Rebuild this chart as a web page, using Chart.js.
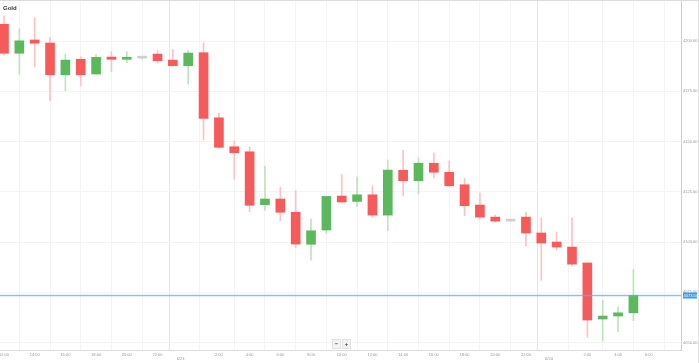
<!DOCTYPE html>
<html>
<head>
<meta charset="utf-8">
<script src="https://cdn.jsdelivr.net/npm/chart.js@4.4.0/dist/chart.umd.min.js"></script>
<style>
  html, body { margin: 0; padding: 0; background: #fff; }
  #wrap { position: relative; width: 699px; height: 363px; box-sizing: border-box;
          border-top: 1px solid #dcdcdc; border-right: 1px solid #e2e2e2; }
  #box { position: absolute; left: 0; top: 0; width: 698px; height: 362px; }
  #title { position: absolute; left: 3px; top: 4px; font: bold 6px "Liberation Sans", Arial, sans-serif; color: #333; }
  #zoom { position: absolute; left: 332px; top: 338px; display: flex; gap: 1px; }
  #zoom span { width: 7px; height: 8px; background: #f3f3f3; border: 1px solid #e2e2e2;
               font: bold 6px "Liberation Sans", Arial, sans-serif; color: #444;
               line-height: 8px; text-align: center; }
</style>
</head>
<body>
<div id="wrap">
  <div id="box"><canvas id="gold"></canvas></div>
  <div id="title">Gold</div>
  <div id="zoom"><span>−</span><span>+</span></div>
</div>
<script>
// hourly candles from 12:00 (6/22) to 5:00 (6/24)
const openP  = [4208.3, 4193.9, 4200.5, 4199.0, 4183.2, 4190.9, 4183.6, 4192.0, 4190.9, 4191.5, 4193.5, 4190.5, 4187.7, 4194.2, 4161.8, 4147.4, 4144.9, 4118.6, 4121.4, 4114.8, 4098.9, 4106.0, 4122.9, 4120.2, 4123.5, 4113.4, 4135.7, 4130.5, 4139.2, 4134.7, 4128.5, 4118.4, 4112.4, 4110.4, 4112.4, 4104.5, 4100.0, 4097.5, 4089.6, 4061.7, 4063.2, 4064.8];
const highP  = [4212.4, 4206.0, 4211.6, 4201.8, 4193.5, 4192.2, 4193.4, 4194.7, 4194.7, 4191.9, 4195.2, 4195.9, 4195.2, 4199.2, 4164.0, 4150.4, 4147.4, 4137.8, 4127.2, 4125.5, 4111.4, 4122.9, 4133.8, 4132.5, 4127.9, 4140.8, 4145.8, 4142.1, 4144.4, 4140.3, 4131.7, 4124.4, 4113.4, 4110.6, 4114.9, 4112.0, 4105.0, 4112.0, 4089.6, 4071.1, 4067.8, 4086.4];
const lowP   = [4193.0, 4183.4, 4187.2, 4170.3, 4175.3, 4177.6, 4183.1, 4184.7, 4189.2, 4191.0, 4188.9, 4187.6, 4178.6, 4150.7, 4146.8, 4131.2, 4115.1, 4115.9, 4110.6, 4097.2, 4091.0, 4104.3, 4119.9, 4117.6, 4112.3, 4105.6, 4123.0, 4123.9, 4132.0, 4127.5, 4113.1, 4111.4, 4109.9, 4110.2, 4098.0, 4081.0, 4096.0, 4088.0, 4052.7, 4050.7, 4055.4, 4060.9];
const closeP = [4193.9, 4200.1, 4198.9, 4183.2, 4190.5, 4183.2, 4191.9, 4190.9, 4191.9, 4191.5, 4190.2, 4187.7, 4194.0, 4161.5, 4147.1, 4144.4, 4118.3, 4121.4, 4114.8, 4099.0, 4105.6, 4122.7, 4119.9, 4123.5, 4113.4, 4135.8, 4130.5, 4139.2, 4134.7, 4128.0, 4118.1, 4112.4, 4110.4, 4110.4, 4104.5, 4099.5, 4097.5, 4089.0, 4061.2, 4063.2, 4064.8, 4073.5];

// x axis ticks (hours since first candle) and their labels
const xTickPos  = [0, 2, 4, 6, 8, 10, 11.5, 14, 16, 18, 20, 22, 24, 26, 28, 30, 32, 34, 35.5, 38, 40, 42];
const xTickText = ['12:00', '14:00', '16:00', '18:00', '20:00', '22:00', ['', '6/23'], '2:00', '4:00', '6:00', '8:00', '10:00',
                   '12:00', '14:00', '16:00', '18:00', '20:00', '22:00', ['', '6/24'], '2:00', '4:00', '6:00'];
const yTicks = [4050, 4075, 4100, 4125, 4150, 4175, 4200];

const UP = '#5cb85c', DOWN = '#f65b5b', FLAT = '#cfcfcf';
const UP_W = '#bfe3bb', DOWN_W = '#fbc4c4', FLAT_W = '#dddddd';

const dir = openP.map((o, i) => closeP[i] > o ? 1 : closeP[i] < o ? -1 : 0);

const priceLine = {
  id: 'priceLine',
  afterDatasetsDraw(chart) {
    const { ctx, chartArea, scales } = chart;
    const last = closeP[closeP.length - 1];
    const y = Math.round(scales.y.getPixelForValue(last)) + 0.5;
    ctx.save();
    ctx.strokeStyle = 'rgba(110,170,225,0.75)';
    ctx.lineWidth = 1.5;
    ctx.beginPath();
    ctx.moveTo(chartArea.left, y);
    ctx.lineTo(chartArea.right, y);
    ctx.stroke();
    ctx.fillStyle = '#3d9be9';
    ctx.fillRect(chartArea.right + 2, y - 3, 14, 6);
    ctx.fillStyle = '#fff';
    ctx.font = '4px "Liberation Sans", Arial, sans-serif';
    ctx.textBaseline = 'middle';
    ctx.fillText(last.toFixed(2), chartArea.right + 2.5, y);
    ctx.restore();
  }
};

new Chart('gold', {
  type: 'bar',
  data: {
    datasets: [{
      label: 'body',
      data: openP.map((o, i) => ({ x: i, y: [o, closeP[i]] })),
      backgroundColor: dir.map(d => d > 0 ? UP : d < 0 ? DOWN : FLAT),
      barThickness: 9,
      minBarLength: 2,
      grouped: false,
      order: 0
    }, {
      label: 'wick',
      data: lowP.map((l, i) => ({ x: i, y: [l, highP[i]] })),
      backgroundColor: dir.map(d => d > 0 ? UP_W : d < 0 ? DOWN_W : FLAT_W),
      barThickness: 1,
      grouped: false,
      order: 1
    }]
  },
  options: {
    responsive: true,
    maintainAspectRatio: false,
    animation: false,
    layout: { padding: 0 },
    plugins: { legend: { display: false }, tooltip: { enabled: false } },
    scales: {
      x: {
        type: 'linear',
        offset: false,
        min: -0.26,
        max: 44.1,
        afterBuildTicks: s => { s.ticks = xTickPos.map(v => ({ value: v })); },
        afterFit: s => { s.height = 13; s.paddingLeft = 0; s.paddingRight = 0; },
        ticks: {
          autoSkip: false,
          maxRotation: 0,
          padding: 2,
          color: '#999',
          font: { size: 4, family: '"Liberation Sans", Arial, sans-serif' },
          callback: (v, i) => xTickText[i]
        },
        grid: {
          drawTicks: false,
          color: c => (c.tick && c.tick.value % 1 !== 0) ? '#e6e6e6' : '#f4f4f4'
        },
        border: { color: '#dadada' }
      },
      y: {
        position: 'right',
        min: 4046.3,
        max: 4219.9,
        afterBuildTicks: s => { s.ticks = yTicks.map(v => ({ value: v })); },
        afterFit: s => { s.width = 17; s.paddingTop = 0; s.paddingBottom = 0; },
        ticks: {
          padding: 2,
          color: '#999',
          font: { size: 4, family: '"Liberation Sans", Arial, sans-serif' },
          callback: v => v.toFixed(2)
        },
        grid: { drawTicks: false, color: '#f4f4f4' },
        border: { color: '#cfcfcf' }
      }
    }
  },
  plugins: [priceLine]
});
</script>
</body>
</html>
